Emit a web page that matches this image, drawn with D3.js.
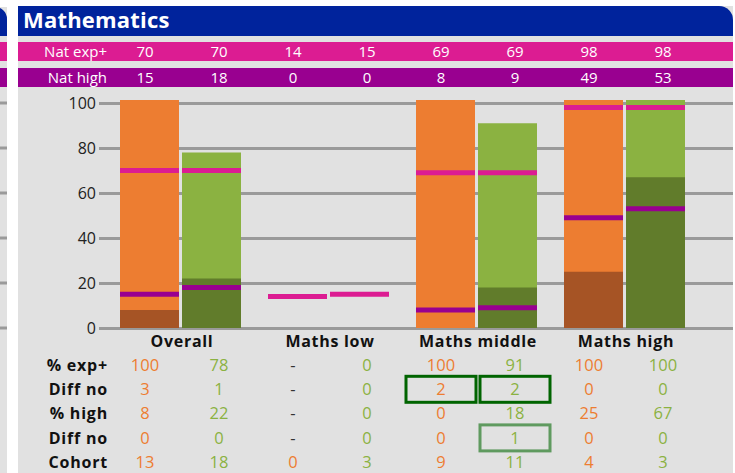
<!DOCTYPE html>
<html>
<head>
<meta charset="utf-8">
<script src="https://cdn.jsdelivr.net/npm/d3@7"></script>
<style>
  body { margin: 0; background: #fff; }
  svg { display: block; font-family: "Open Sans", sans-serif; }
</style>
</head>
<body>
<svg id="chart"></svg>
<script>
// values (school = orange, second column = green)
const categories = ["Overall", "Maths low", "Maths middle", "Maths high"];
const columns = ["school", "comparison"];
const natExp = [70, 70, 14, 15, 69, 69, 98, 98];
const natHigh = [15, 18, 0, 0, 8, 9, 49, 53];
const pctExp = [100, 78, null, 0, 100, 91, 100, 100];
const diffExp = [3, 1, null, 0, 2, 2, 0, 0];
const pctHigh = [8, 22, null, 0, 0, 18, 25, 67];
const diffHigh = [0, 0, null, 0, 0, 1, 0, 0];
const cohort = [13, 18, 0, 3, 9, 11, 4, 3];
const yTicks = [0, 20, 40, 60, 80, 100];
const rowLabels = ["% exp+", "Diff no", "% high", "Diff no", "Cohort"];
// boxed cells: [row, column, strong]
const flagged = [[1, 4, true], [1, 5, true], [3, 5, false]];

const W = 735, H = 473;
const colours = {
    light: ["#ED7D31", "#8BB241"],
    dark: ["#A65425", "#617C2B"],
    text: ["#ED7D31", "#8BB241"],
    exp: "#DC1C92",
    high: "#990090",
    header: "#00239C",
    panel: "#E1E1E1",
    grid: "#9A9A9A"
};

const svg = d3.select("#chart").attr("width", W).attr("height", H);

const y = d3.scaleLinear().domain([0, 100]).range([328, 103]);

// neighbouring panel peeking in on the left
const left = svg.append("g");
left.append("rect").attr("x", 0).attr("y", 7).attr("width", 7).attr("height", H).attr("fill", colours.panel);
left.append("path").attr("d", "M0,7 H-5 A12,12 0 0 1 7,19 V36 H0 Z").attr("fill", colours.header);
left.append("rect").attr("x", 0).attr("y", 42).attr("width", 7).attr("height", 19).attr("fill", colours.exp);
left.append("rect").attr("x", 0).attr("y", 68).attr("width", 7).attr("height", 19).attr("fill", colours.high);
left.selectAll(".lg").data(yTicks).join("line")
    .attr("x1", 0).attr("x2", 7)
    .attr("y1", d => y(d)).attr("y2", d => y(d))
    .attr("stroke", colours.grid).attr("stroke-width", 3);

// main panel
const px = 18, pr = 733;
svg.append("rect").attr("x", px).attr("y", 6).attr("width", pr - px).attr("height", H).attr("fill", colours.panel);
svg.append("path")
    .attr("d", `M${px},6 H${pr - 14} A14,14 0 0 1 ${pr},20 V36 H${px} Z`)
    .attr("fill", colours.header);
svg.append("text").attr("x", 23).attr("y", 28)
    .attr("fill", "#fff").attr("font-size", 22).attr("font-weight", "bold").attr("letter-spacing", 0.2)
    .text("Mathematics");

const x0 = d3.scaleBand().domain(categories).range([106.5, 698.5])
    .paddingInner(27 / 148).paddingOuter(27 / 296);
const x1 = d3.scaleBand().domain(columns).range([0, x0.bandwidth()]).paddingInner(3 / 62);
const barX = i => x0(categories[Math.floor(i / 2)]) + x1(columns[i % 2]);
const colX = i => x0(categories[Math.floor(i / 2)]) + x0.bandwidth() / 2 + 1.5 + (i % 2 === 0 ? -37 : 37);

// national bands
const bands = [
    { label: "Nat exp+", values: natExp, y: 42, fill: colours.exp },
    { label: "Nat high", values: natHigh, y: 68, fill: colours.high }
];
bands.forEach(b => {
    svg.append("rect").attr("x", px).attr("y", b.y).attr("width", pr - px).attr("height", 19).attr("fill", b.fill);
    svg.append("text").attr("x", 107).attr("y", b.y + 9.5).attr("dy", "0.35em")
        .attr("text-anchor", "end").attr("fill", "#fff").attr("font-size", 15).text(b.label);
    svg.selectAll(null).data(b.values).join("text")
        .attr("x", (d, i) => colX(i)).attr("y", b.y + 9.5).attr("dy", "0.35em")
        .attr("text-anchor", "middle").attr("fill", "#fff").attr("font-size", 15)
        .text(d => d);
});

// y axis + gridlines
const yAxis = svg.append("g").attr("transform", "translate(99,0)")
    .call(d3.axisLeft(y).tickValues(yTicks).tickSize(-(pr - 99)).tickPadding(3));
yAxis.select(".domain").remove();
yAxis.selectAll("line").attr("stroke", colours.grid).attr("stroke-width", 3);
yAxis.selectAll("text").attr("font-size", 16).attr("fill", "#222").attr("font-family", "Open Sans, sans-serif");

// bars
const barData = pctExp.map((v, i) => ({ i, total: v || 0, high: pctHigh[i] || 0 }));
const bars = svg.append("g").selectAll("g").data(barData).join("g")
    .attr("transform", d => `translate(${barX(d.i)},0)`);
bars.filter(d => d.total > 0).append("rect")
    .attr("y", d => y(d.total) - (d.total === 100 ? 3 : 0)).attr("width", x1.bandwidth())
    .attr("height", d => y(0) - y(d.total) + (d.total === 100 ? 3 : 0))
    .attr("fill", d => colours.light[d.i % 2]);
bars.filter(d => d.high > 0).append("rect")
    .attr("y", d => y(d.high)).attr("width", x1.bandwidth())
    .attr("height", d => y(0) - y(d.high))
    .attr("fill", d => colours.dark[d.i % 2]);

// national markers
[[natExp, colours.exp], [natHigh, colours.high]].forEach(([vals, fill]) => {
    svg.append("g").selectAll("rect").data(vals.map((v, i) => ({ v, i })).filter(d => d.v > 0)).join("rect")
        .attr("x", d => barX(d.i)).attr("y", d => y(d.v) - 2.5)
        .attr("width", x1.bandwidth()).attr("height", 5).attr("fill", fill);
});

// category labels
svg.selectAll(".cat").data(categories).join("text")
    .attr("x", d => x0(d) + x0.bandwidth() / 2 + 1.5).attr("y", 341).attr("dy", "0.35em")
    .attr("text-anchor", "middle").attr("font-size", 16).attr("font-weight", "bold").attr("fill", "#111")
    .attr("letter-spacing", 0.7)
    .text(d => d);

// table under the chart
const rows = [pctExp, diffExp, pctHigh, diffHigh, cohort];
const rowY = r => 365 + r * 24.3;
rows.forEach((vals, r) => {
    svg.append("text").attr("x", 108).attr("y", rowY(r)).attr("dy", "0.35em")
        .attr("text-anchor", "end").attr("font-size", 16).attr("font-weight", "bold").attr("fill", "#111")
        .attr("letter-spacing", 0.8)
        .text(rowLabels[r]);
    svg.selectAll(null).data(vals).join("text")
        .attr("x", (d, i) => colX(i)).attr("y", rowY(r)).attr("dy", "0.35em")
        .attr("text-anchor", "middle").attr("font-size", 16.5)
        .attr("fill", (d, i) => d === null ? "#333" : colours.text[i % 2])
        .text(d => d === null ? "-" : d);
});

svg.selectAll(".flag").data(flagged).join("rect")
    .attr("x", d => colX(d[1]) - 35).attr("y", d => rowY(d[0]) - 13)
    .attr("width", 70).attr("height", 26).attr("fill", "none")
    .attr("stroke", d => d[2] ? "#006400" : "#5F9A5F").attr("stroke-width", 3);
</script>
</body>
</html>
